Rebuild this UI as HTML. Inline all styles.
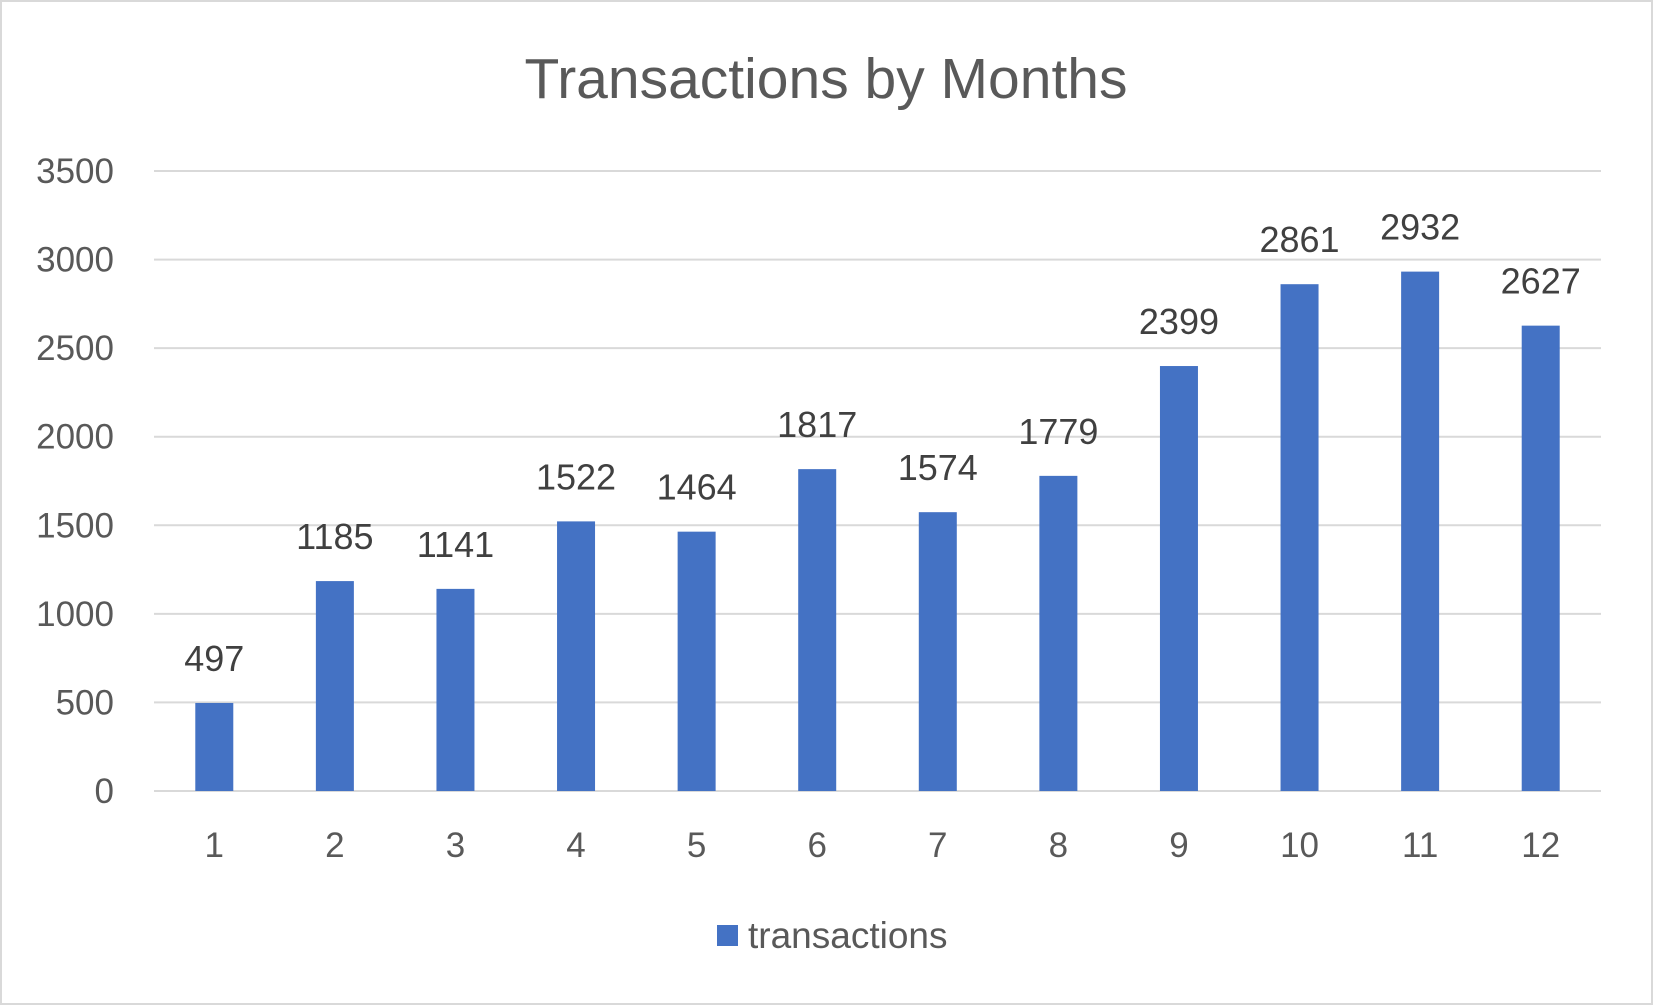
<!DOCTYPE html>
<html><head><meta charset="utf-8"><style>
html,body{margin:0;padding:0;background:#fff}
svg{display:block;font-family:"Liberation Sans",Arial,sans-serif}
</style></head><body>
<svg id="chart" width="1653" height="1005" viewBox="0 0 1653 1005">
<rect x="1" y="1" width="1651" height="1003" fill="#fff" stroke="#d9d9d9" stroke-width="2"/>
<text x="826" y="98" text-anchor="middle" font-size="57" fill="#595959">Transactions by Months</text>
<g id="grid"></g><g id="bars"></g><g id="labels"></g>
<rect x="717" y="925" width="21" height="21" fill="#4472c4"/>
<text x="748" y="948" font-size="37" fill="#595959">transactions</text>
</svg>
<script>
const categories=["1","2","3","4","5","6","7","8","9","10","11","12"];
const values=[497,1185,1141,1522,1464,1817,1574,1779,2399,2861,2932,2627];
const yTicks=[0,500,1000,1500,2000,2500,3000,3500];
const NS="http://www.w3.org/2000/svg";
const L=154,R=1601,T=171,B=791,yMax=3500;
const y=v=>B-(v/yMax)*(B-T);
const cw=(R-L)/categories.length;
const xc=i=>L+cw*(i+0.5);
function mk(tag,attrs,parent,text){const e=document.createElementNS(NS,tag);for(const k in attrs)e.setAttribute(k,attrs[k]);if(text!==undefined)e.textContent=text;parent.appendChild(e);return e;}
const grid=document.getElementById('grid'),bars=document.getElementById('bars'),labels=document.getElementById('labels');
yTicks.forEach(t=>{
  const ln=mk('line',{x1:L,x2:R,y1:y(t),y2:y(t),stroke:'#d9d9d9','stroke-width':2},grid);
  
  
  const tx=mk('text',{x:114,y:y(t)+12,'text-anchor':'end','font-size':35,fill:'#595959'},grid,String(t));
  
  
});
categories.forEach((c,i)=>{
  const v=values[i];
  const r=mk('rect',{x:xc(i)-19,y:y(v),width:38,height:B-y(v),fill:'#4472c4'},bars);
  
  
  const dl=mk('text',{x:xc(i),y:y(v)-32,'text-anchor':'middle','font-size':36,fill:'#404040'},labels,String(v));
  
  
  const xl=mk('text',{x:xc(i),y:857,'text-anchor':'middle','font-size':35,fill:'#595959'},labels,c);
  
  
});
</script>
</body></html>
